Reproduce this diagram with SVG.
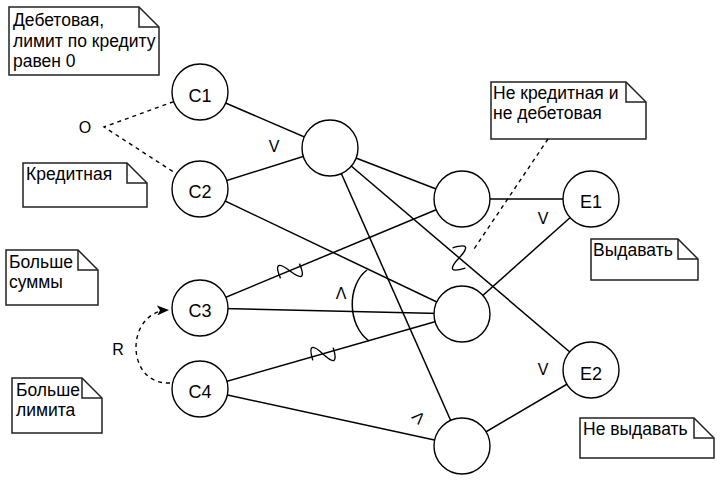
<svg xmlns="http://www.w3.org/2000/svg" width="722" height="483" viewBox="0 0 722 483">
<style>
text{font-family:"Liberation Sans",Arial,sans-serif;fill:#000}
.t{font-size:17.5px}
.n{font-size:18px;text-anchor:middle}
.l{font-size:16px;text-anchor:middle}
.e{stroke:#000;stroke-width:1.5;fill:none}
.d{stroke:#000;stroke-width:1.4;fill:none;stroke-dasharray:4 4}
.c{fill:#fff;stroke:#000;stroke-width:1.4}
.note{fill:#fff;stroke:#222;stroke-width:1.5}
.fold{fill:none;stroke:#222;stroke-width:1.5}
</style>
<defs>
<marker id="arr" viewBox="0 0 12 10" refX="11" refY="5" markerWidth="12" markerHeight="10" markerUnits="userSpaceOnUse" orient="auto">
<path d="M0,0 L12,5 L0,10 L3,5 Z" fill="#000"/>
</marker>
<path id="sq" d="M-12,0 C-8,-15 -4,-15 0,0 S8,15 12,0" fill="none" stroke="#000" stroke-width="1.4"/>
</defs>
<g id="notes">
<g id="note1"><path class="note" d="M9,7 H139 L159,27 V75 H9 Z"/><path class="fold" d="M139,7 V27 H159"/>
<text class="t" x="13" y="26">Дебетовая,</text><text class="t" x="13" y="46.5">лимит по кредиту</text><text class="t" x="13" y="66.5">равен 0</text></g>
<g id="note2"><path class="note" d="M23,163 H127 L147,183 V207 H23 Z"/><path class="fold" d="M127,163 V183 H147"/>
<text class="t" x="26" y="180">Кредитная</text></g>
<g id="note3"><path class="note" d="M491,82 H626 L646,102 V139 H491 Z"/><path class="fold" d="M626,82 V102 H646"/>
<text class="t" x="493" y="99">Не кредитная и</text><text class="t" x="493" y="119">не дебетовая</text></g>
<g id="note4"><path class="note" d="M591,239 H678 L698,259 V280 H591 Z"/><path class="fold" d="M678,239 V259 H698"/>
<text class="t" x="593" y="256">Выдавать</text></g>
<g id="note5"><path class="note" d="M6,250 H78 L98,270 V305 H6 Z"/><path class="fold" d="M78,250 V270 H98"/>
<text class="t" x="9" y="268">Больше</text><text class="t" x="9" y="288">суммы</text></g>
<g id="note6"><path class="note" d="M12,378 H82 L102,398 V433 H12 Z"/><path class="fold" d="M82,378 V398 H102"/>
<text class="t" x="16" y="396">Больше</text><text class="t" x="16" y="416">лимита</text></g>
<g id="note7"><path class="note" d="M580,418 H694 L714,438 V458 H580 Z"/><path class="fold" d="M694,418 V438 H714"/>
<text class="t" x="583" y="435">Не выдавать</text></g>
</g>
<g id="connectors">
<line class="e" x1="200" y1="92" x2="330" y2="148"/>
<line class="e" x1="200" y1="189" x2="330" y2="148"/>
<line class="e" x1="200" y1="189" x2="462" y2="314"/>
<line class="e" x1="330" y1="148" x2="462" y2="199"/>
<line class="e" x1="330" y1="148" x2="591" y2="370"/>
<line class="e" x1="330" y1="148" x2="462" y2="446"/>
<line class="e" x1="200" y1="308" x2="462" y2="199"/>
<line class="e" x1="200" y1="308" x2="462" y2="314"/>
<line class="e" x1="200" y1="389" x2="462" y2="314"/>
<line class="e" x1="200" y1="389" x2="462" y2="446"/>
<line class="e" x1="462" y1="199" x2="591" y2="199"/>
<line class="e" x1="462" y1="314" x2="591" y2="199"/>
<line class="e" x1="462" y1="446" x2="591" y2="370"/>
<path class="d" d="M173.7,101.6 L104,127 L176.4,173.8" stroke-dasharray="3 3"/>
<path class="d" d="M170,383 C125,385 125,312 168,310" marker-end="url(#arr)"/>
<line class="d" x1="548" y1="139" x2="472" y2="252" stroke-dasharray="4 4"/>
<path class="e" d="M367,270 C347,285 347,325 369,341"/>
<use href="#sq" transform="translate(290,271) rotate(-38)"/>
<use href="#sq" transform="translate(323,354) rotate(-32)"/>
<use href="#sq" transform="translate(459,258) rotate(58)"/>
<text class="l" x="85" y="133">O</text>
<text class="l" x="274" y="152">V</text>
<text class="l" x="118" y="355">R</text>
<text class="l" x="341" y="299">Λ</text>
<text class="l" x="543" y="224">V</text>
<text class="l" x="543" y="375">V</text>
<text class="l" transform="translate(419,417) rotate(45)" x="0" y="6">Λ</text>
</g>
<g id="nodes">
<g id="C1"><circle class="c" cx="200" cy="92" r="28"/><text class="n" x="200" y="102">C1</text></g>
<g id="C2"><circle class="c" cx="200" cy="189" r="28"/><text class="n" x="200" y="198">C2</text></g>
<g id="C3"><circle class="c" cx="200" cy="308" r="28"/><text class="n" x="200" y="317">C3</text></g>
<g id="C4"><circle class="c" cx="200" cy="389" r="28"/><text class="n" x="200" y="398">C4</text></g>
<g id="N1"><circle class="c" cx="330" cy="148" r="28"/></g>
<g id="N2"><circle class="c" cx="462" cy="199" r="28"/></g>
<g id="N3"><circle class="c" cx="462" cy="314" r="28"/></g>
<g id="N4"><circle class="c" cx="462" cy="446" r="28"/></g>
<g id="E1"><circle class="c" cx="591" cy="199" r="28"/><text class="n" x="591" y="208">E1</text></g>
<g id="E2"><circle class="c" cx="591" cy="370" r="28"/><text class="n" x="591" y="380">E2</text></g>
</g>
</svg>
